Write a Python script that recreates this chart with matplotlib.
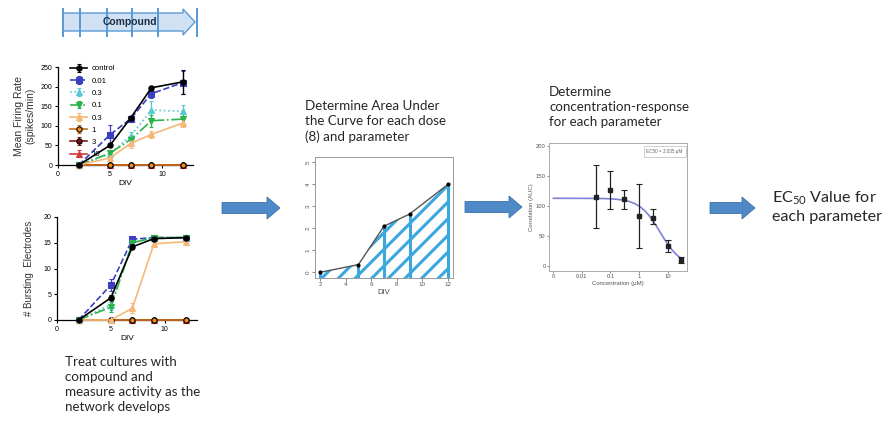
import numpy as np
import matplotlib
matplotlib.use("Agg")
import matplotlib.pyplot as plt
from matplotlib.patches import Polygon, Rectangle

plt.rcParams['font.family'] = ['Liberation Sans', 'DejaVu Sans']
plt.rcParams['mathtext.fontset'] = 'custom'
plt.rcParams['mathtext.rm'] = 'Lato'
plt.rcParams['hatch.linewidth'] = 2.2

W, H = 893, 422

# --- data: activity over development (DIV) ---
div = [2, 5, 7, 9, 12]
doses = ['control', '0.01', '0.3', '0.1', '0.3', '1', '3', '10']
mfr = [
    [0, 50, 120, 197, 212],
    [0, 77, 118, 182, 210],
    [0, 28, 75, 140, 137],
    [0, 30, 65, 113, 117],
    [0, 18, 55, 78, 107],
    [0, 0, 0, 0, 0],
    [0, 0, 0, 0, 0],
    [0, 0, 0, 0, 0],
]
mfr_err = [
    [0, 5, 5, 5, 30],
    [0, 25, 5, 10, 30],
    [0, 5, 10, 22, 15],
    [0, 5, 10, 15, 15],
    [0, 5, 12, 8, 10],
    [0, 0, 0, 0, 0],
    [0, 0, 0, 0, 0],
    [0, 0, 0, 0, 0],
]
burst = [
    [0, 4.3, 14.2, 15.8, 16],
    [0, 6.8, 15.7, 16, 16],
    [0, 3.0, 15.0, 16, 16],
    [0, 2.5, 15.0, 16, 16],
    [0, 0, 2.3, 14.8, 15.2],
    [0, 0, 0, 0, 0],
    [0, 0, 0, 0, 0],
    [0, 0, 0, 0, 0],
]
burst_err = [
    [0, 0.5, 0.5, 0.3, 0.2],
    [0, 1.2, 0.3, 0.2, 0.2],
    [0, 1.0, 0.5, 0.2, 0.2],
    [0, 1.0, 0.5, 0.2, 0.2],
    [0, 0, 1.0, 0.3, 0.4],
    [0, 0, 0, 0, 0],
    [0, 0, 0, 0, 0],
    [0, 0, 0, 0, 0],
]

# --- data: area under the curve example ---
auc_div = [2, 5, 7, 9, 12]
auc_val = [0, 0.35, 2.1, 2.65, 4.0]

# --- data: concentration response ---
conc = [0.03, 0.1, 0.3, 1, 3, 10, 30]
resp = [115, 127, 112, 84, 80, 33, 10]
resp_lo = [64, 95, 96, 30, 70, 23, 6]
resp_hi = [168, 158, 127, 137, 95, 43, 15]
fit_top, fit_bottom, fit_ec50, fit_hill = 113, 0, 5.5, 1.2

colors = ['black', '#3b3fc0', '#5cc8d2', '#2db34a', '#f6b878', '#c8701a', '#8b1a1a', '#d23b3b']
faces = ['black', '#3b3fc0', '#5cc8d2', '#2db34a', '#f6b878', '#f08a1c', '#7a1010', '#d23b3b']
edges = ['black', '#3b3fc0', '#5cc8d2', '#2db34a', '#f6b878', 'black', 'black', '#d23b3b']
styles = ['-', '--', ':', '-.', '-', '-', '-', '-']
markers = ['o', 's', '^', 'v', '^', 'o', 'o', '^']
zorders = [5, 4, 4, 4, 4, 3.3, 3.2, 3.1]


def rect(x0, y0, x1, y1):
    return [x0 / W, 1 - y1 / H, (x1 - x0) / W, (y1 - y0) / H]


fig = plt.figure(figsize=(W / 100, H / 100), dpi=100)

# overlay axes in pixel coordinates for arrows and text
ov = fig.add_axes([0, 0, 1, 1])
ov.set_xlim(0, W)
ov.set_ylim(H, 0)
ov.axis('off')


def prism_axes(ax, ymax, yticks):
    ax.set_xlim(0, 13)
    ax.set_ylim(0, ymax)
    ax.set_xticks([0, 5, 10])
    ax.set_yticks(yticks)
    ax.spines['top'].set_visible(False)
    ax.spines['right'].set_visible(False)
    for s in ['left', 'bottom']:
        ax.spines[s].set_linewidth(0.9)
    ax.tick_params(labelsize=5, length=2.5, width=0.8, pad=1.5)
    ax.set_xlabel('DIV', fontsize=6, labelpad=2)


def draw_doses(ax, vals, errs, with_labels):
    for i in range(len(doses)):
        ax.errorbar(div, vals[i], yerr=errs[i], color=colors[i], ls=styles[i], lw=1.2,
                    marker=markers[i], ms=3.8, mfc=faces[i], mec=edges[i], mew=0.8,
                    elinewidth=0.9, capsize=1.5, label=doses[i] if with_labels else None,
                    clip_on=False, zorder=zorders[i])


# top: mean firing rate
ax1 = fig.add_axes(rect(58, 67, 193, 165))
draw_doses(ax1, mfr, mfr_err, True)
prism_axes(ax1, 250, [0, 50, 100, 150, 200, 250])
ax1.set_ylabel('Mean Firing Rate\n(spikes/min)', fontsize=7.5, color='#333333', labelpad=4)
ax1.legend(loc='upper left', bbox_to_anchor=(0.06, 1.06), fontsize=5.6, frameon=False,
           handlelength=2.2, labelspacing=0.62, handletextpad=0.6, borderpad=0)

# bottom: bursting electrodes
ax2 = fig.add_axes(rect(57, 217, 197, 320))
draw_doses(ax2, burst, burst_err, False)
prism_axes(ax2, 20, [0, 5, 10, 15, 20])
ax2.set_ylabel('# Bursting  Electrodes', fontsize=7, color='#333333', labelpad=7)

# AUC plot
ax3 = fig.add_axes(rect(315, 157, 453, 278))
ax3.set_xlim(1.6, 12.4)
ax3.set_ylim(-0.26, 5.25)
blue = '#3ca6de'
ax3.fill_between(auc_div, -0.26, auc_val, facecolor='none', edgecolor=blue, hatch='//', linewidth=0)
ax3.vlines(auc_div, -0.26, auc_val, color=blue, lw=2.2)
ax3.plot(auc_div, auc_val, color='#555555', lw=1.0, marker='o', ms=2, mfc='black', mec='black')
ax3.set_xticks([2, 4, 6, 8, 10, 12])
ax3.set_yticks([0, 1, 2, 3, 4, 5])
ax3.tick_params(labelsize=4.5, length=2, width=0.5, pad=1, colors='#555555')
for lab in ax3.get_yticklabels():
    lab.set_rotation(90)
    lab.set_va('center')
for s in ax3.spines.values():
    s.set_color('#999999')
    s.set_linewidth(0.7)
ax3.set_xlabel('DIV', fontsize=5.5, labelpad=1, color='#444444')

# concentration-response plot
ax4 = fig.add_axes(rect(549, 143, 687, 271))
ax4.set_xscale('log')
ax4.set_xlim(0.0007, 48)
ax4.set_ylim(-8, 205)
xc = np.logspace(-3, np.log10(30), 200)
yc = fit_bottom + (fit_top - fit_bottom) / (1 + (xc / fit_ec50) ** fit_hill)
ax4.plot(xc, yc, color='#7f80d6', lw=1.2)
yerr = [np.array(resp) - np.array(resp_lo), np.array(resp_hi) - np.array(resp)]
ax4.errorbar(conc, resp, yerr=yerr, fmt='s', color='#222222', ms=2.2, elinewidth=0.9,
             capsize=2.5, capthick=0.8)
ax4.set_xticks([0.001, 0.01, 0.1, 1, 10])
ax4.set_xticklabels(['0', '0.01', '0.1', '1', '10'])
ax4.xaxis.set_minor_locator(matplotlib.ticker.NullLocator())
ax4.set_yticks([0, 50, 100, 150, 200])
ax4.tick_params(labelsize=4.2, length=1.5, width=0.5, pad=1, colors='#555555')
for s in ax4.spines.values():
    s.set_color('#aaaaaa')
    s.set_linewidth(0.7)
ax4.set_xlabel('Concentration (\u00b5M)', fontsize=4.3, labelpad=1, color='#555555')
ax4.set_ylabel('Correlation (AUC)', fontsize=4.3, labelpad=1, color='#555555')
ax4.text(0.97, 0.955, 'EC50 = 3.035 \u00b5M', transform=ax4.transAxes, fontsize=3.3,
         ha='right', va='top', color='#666666',
         bbox=dict(boxstyle='square,pad=0.6', fc='white', ec='#bbbbbb', lw=0.5))

# compound exposure arrow
comp = Polygon([(63, 13), (183, 13), (183, 9), (195, 22), (183, 35), (183, 31), (63, 31)],
               closed=True, fc='#cfe1f3', ec='#5b9bd5', lw=1.0, zorder=2)
ov.add_patch(comp)
for xb in [63, 80, 107, 132, 158, 197]:
    ov.add_patch(Rectangle((xb - 1.3, 8), 2.6, 29, fc='#5b9bd5', ec='none', zorder=3))
ov.text(130, 22, 'Compound', fontsize=7.5, fontweight='bold', ha='center', va='center',
        color='#1f2f4a', zorder=4)


# process arrows
def big_arrow(x0, x1, yc):
    hl = 13
    pts = [(x0, yc - 5.5), (x1 - hl, yc - 5.5), (x1 - hl, yc - 11), (x1, yc),
           (x1 - hl, yc + 11), (x1 - hl, yc + 5.5), (x0, yc + 5.5)]
    ov.add_patch(Polygon(pts, closed=True, fc='#4f89c8', ec='#3d74b0', lw=0.6))


big_arrow(222, 280, 208)
big_arrow(465, 522, 207)
big_arrow(710, 755, 208)

txt = dict(family=['Lato', 'DejaVu Sans'], color='#262626', ha='left', va='top', linespacing=1.3)
ov.text(305, 100, 'Determine Area Under\nthe Curve for each dose\n(8) and parameter', fontsize=9.6, **txt)
ov.text(549, 86, 'Determine\nconcentration-response\nfor each parameter', fontsize=9.6, **txt)
ov.text(772, 189, 'EC$_{\\mathregular{50}}$ Value for\neach parameter', fontsize=11.6, **txt)
ov.text(65, 356, 'Treat cultures with\ncompound and\nmeasure activity as the\nnetwork develops', fontsize=9.6, **txt)

fig.savefig('out.png', dpi=100)
